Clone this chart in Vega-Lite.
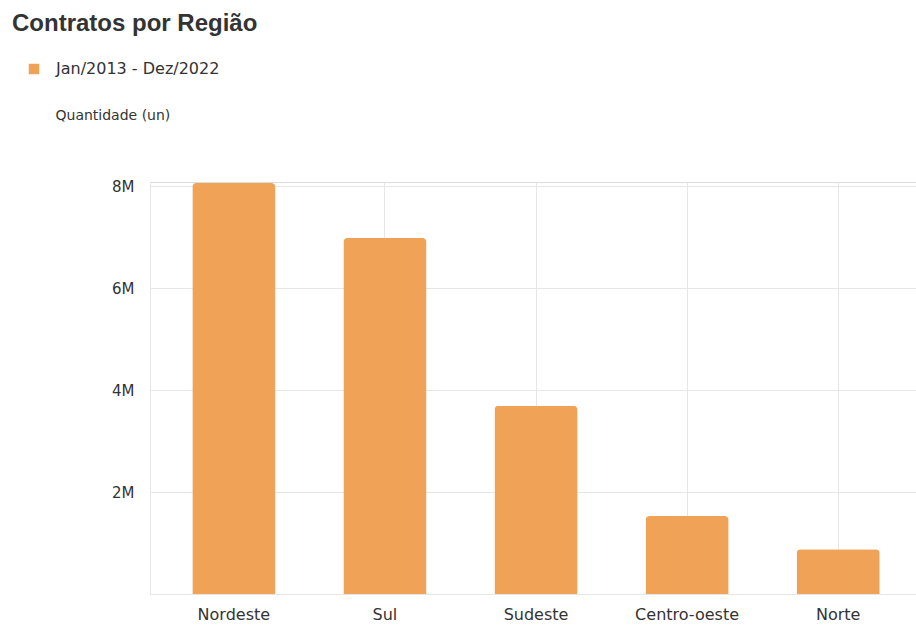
{
  "$schema": "https://vega.github.io/schema/vega-lite/v6.json",
  "width": 772,
  "height": 412,
  "autosize": {"type": "none"},
  "padding": {"left": 150, "top": 182, "right": 0, "bottom": 31},
  "background": "white",
  "title": {
    "text": "Contratos por Região",
    "anchor": "start",
    "frame": "group",
    "dx": -138,
    "offset": 6,
    "baseline": "alphabetic",
    "font": "Liberation Sans",
    "fontSize": 24,
    "fontWeight": "bold",
    "color": "#333333"
  },
  "data": {
    "values": [
      {"regiao": "Nordeste", "quantidade": 8060000, "periodo": "Jan/2013 - Dez/2022"},
      {"regiao": "Sul", "quantidade": 6980000, "periodo": "Jan/2013 - Dez/2022"},
      {"regiao": "Sudeste", "quantidade": 3690000, "periodo": "Jan/2013 - Dez/2022"},
      {"regiao": "Centro-oeste", "quantidade": 1530000, "periodo": "Jan/2013 - Dez/2022"},
      {"regiao": "Norte", "quantidade": 880000, "periodo": "Jan/2013 - Dez/2022"}
    ]
  },
  "mark": {"type": "bar", "cornerRadiusTopLeft": 4, "cornerRadiusTopRight": 4},
  "encoding": {
    "x": {
      "field": "regiao",
      "type": "nominal",
      "sort": null,
      "scale": {"paddingInner": 0.45, "paddingOuter": 0.28},
      "axis": {
        "title": null,
        "labelAngle": 0,
        "labelFont": "DejaVu Sans",
        "labelFontSize": 16,
        "labelColor": "#333333",
        "labelPadding": 12,
        "ticks": false,
        "domain": true,
        "domainColor": "#e6e6e6",
        "grid": true,
        "gridColor": "#e6e6e6",
        "bandPosition": 0.5
      }
    },
    "y": {
      "field": "quantidade",
      "type": "quantitative",
      "scale": {"domain": [0, 8080000], "nice": false},
      "axis": {
        "title": "Quantidade (un)",
        "titleAngle": 0,
        "titleAlign": "left",
        "titleBaseline": "middle",
        "titleX": -95,
        "titleY": -67,
        "titleFont": "DejaVu Sans",
        "titleFontSize": 14,
        "titleFontWeight": "normal",
        "titleColor": "#333333",
        "values": [0, 2000000, 4000000, 6000000, 8000000],
        "labelExpr": "datum.value == 0 ? '' : (datum.value / 1000000) + 'M'",
        "labelFont": "DejaVu Sans",
        "labelFontSize": 15,
        "labelColor": "#333333",
        "labelPadding": 16,
        "ticks": false,
        "domain": true,
        "domainColor": "#e6e6e6",
        "grid": true,
        "gridColor": "#e6e6e6"
      }
    },
    "color": {
      "field": "periodo",
      "type": "nominal",
      "scale": {"range": ["#F0A257"]},
      "legend": {
        "title": null,
        "orient": "none",
        "legendX": -124,
        "legendY": -121,
        "symbolType": "square",
        "symbolSize": 110,
        "labelFont": "DejaVu Sans",
        "labelFontSize": 16,
        "labelLimit": 400,
        "labelColor": "#333333",
        "labelOffset": 14
      }
    }
  }
}
